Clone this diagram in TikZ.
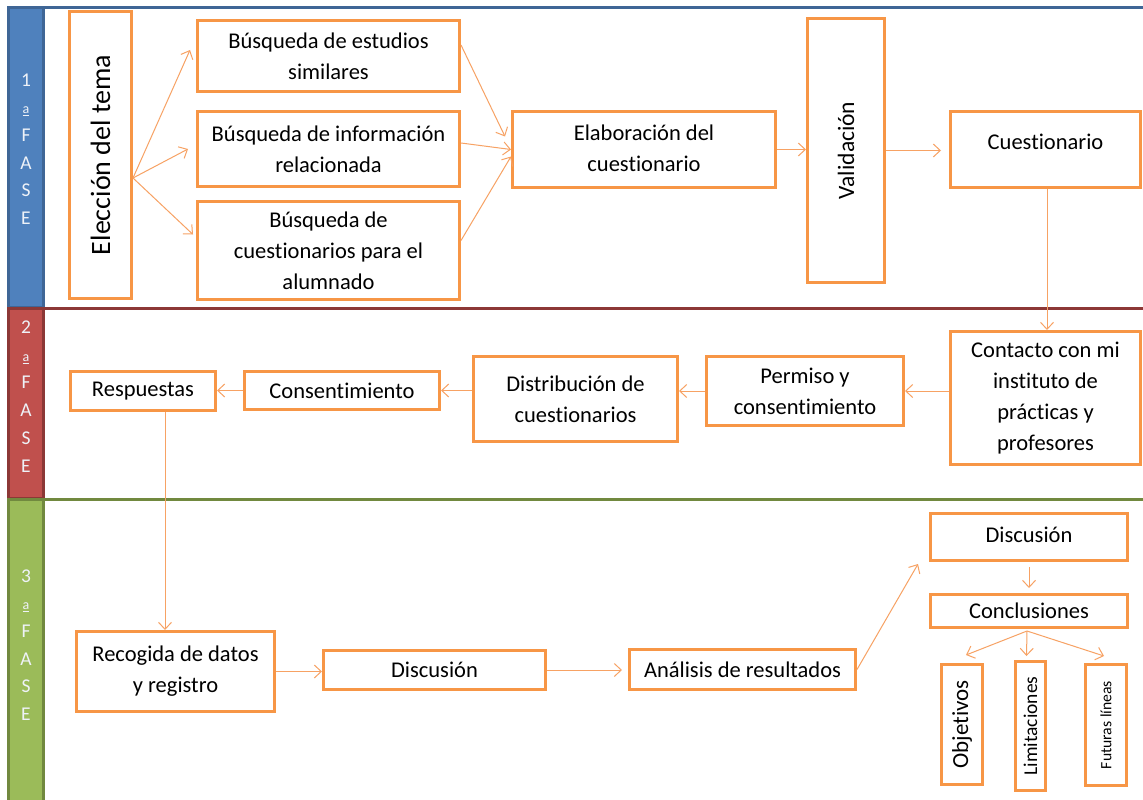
\documentclass[tikz,border=0pt]{standalone}
\usepackage{fontspec}
\setmainfont{Carlito}[Ligatures={NoCommon,NoRare}]
\usetikzlibrary{arrows.meta,calc}
\definecolor{boxor}{HTML}{F79646}
\definecolor{arror}{HTML}{F7A264}
\definecolor{bfill}{HTML}{4F81BD}
\definecolor{bline}{HTML}{3F6696}
\definecolor{rfill}{HTML}{C0504D}
\definecolor{rline}{HTML}{8C3836}
\definecolor{gfill}{HTML}{9BBB59}
\definecolor{gline}{HTML}{71893F}
\definecolor{stxt}{HTML}{EEF2F8}
\tikzset{
  box/.style={draw=boxor, line width=3pt, fill=white, align=center, inner sep=2pt,
    font=\fontsize{22.5}{31}\selectfont},
  conn/.style={draw=arror, line width=1pt, -{Straight Barb[length=7pt,width=13pt]}},
  stripnum/.style={align=center, text=stxt, font=\fontsize{19.5}{27.7}\selectfont},
}
\newcommand{\bx}[6]{% name, x1, y1, x2, y2, text
  \node[box, minimum width={#4-#2-3pt}, minimum height={#5-#3-3pt}] (#1) at ({(#2+#4)/2},{(#3+#5)/2}) {#6};}
\newcommand{\ordA}{{\fontsize{14}{15}\selectfont\underline{a}}}
\begin{document}
\begin{tikzpicture}[x=1pt,y=-1pt]
\useasboundingbox (0,0) rectangle (1143,800);
\fill[white] (0,0) rectangle (1143,800);
% phase strips
\fill[bfill] (8,8) rectangle (43,307);
\draw[bline, line width=3pt] (43,307) -- (8,307) -- (8,8) -- (1143,8);
\draw[bline, line width=3pt] (43,8) -- (43,307);
\fill[rfill] (8,308) rectangle (43,498);
\draw[rline, line width=3pt] (43,498) -- (8,498) -- (8,308) -- (1143,308);
\draw[rline, line width=3pt] (43,308) -- (43,498);
\fill[gfill] (8,500) rectangle (43,805);
\draw[gline, line width=3pt] (8,805) -- (8,499) -- (1143,499);
\draw[gline, line width=3pt] (43,499) -- (43,805);
\node[stripnum] (p1) at (26,149) {1\\\ordA\\F\\A\\S\\E};
\node[stripnum] (p2) at (26,396.5) {2\\\ordA\\F\\A\\S\\E};
\node[stripnum] (p3) at (26,645) {3\\\ordA\\F\\A\\S\\E};
% phase 1
\bx{el}{68}{10}{133}{300}{\rotatebox{90}{\fontsize{28}{32}\selectfont Elección del tema}}
\bx{bs1}{196}{19}{461}{93}{Búsqueda de estudios\\similares}
\bx{bs2}{196}{110}{461}{188}{Búsqueda de información\\relacionada}
\bx{bs3}{196}{200}{461}{301}{Búsqueda de\\cuestionarios para el\\alumnado}
\bx{elab}{511}{110}{777}{189}{\raisebox{3pt}{\begin{tabular}{@{}c@{}}Elaboración del\\cuestionario\end{tabular}}}
\bx{val}{806}{17}{886}{284}{\rotatebox{90}{\fontsize{23.5}{28}\selectfont Validación}}
\bx{cu}{949}{110}{1142}{189}{\raisebox{16pt}{Cuestionario}}
% phase 2
\bx{ct}{949}{330}{1142}{466}{Contacto con mi\\instituto de\\prácticas y\\profesores}
\bx{pm}{705}{355}{905}{427}{Permiso y\\consentimiento}
\bx{db}{472}{355}{679}{443}{Distribución de\\cuestionarios}
\bx{cs}{243}{370}{441}{411}{Consentimiento}
\bx{rs}{69}{370}{217}{412}{Respuestas}
% phase 3
\bx{rg}{75}{630}{276}{713}{Recogida de datos\\y registro}
\bx{d1}{322}{649}{547}{691}{Discusión}
\bx{an}{628}{648}{857}{691}{Análisis de resultados}
\bx{d2}{929}{512}{1129}{562}{\raisebox{4pt}{Discusión}}
\bx{cc}{929}{593}{1129}{629}{Conclusiones}
\bx{ob}{940}{663}{984}{786}{\rotatebox{90}{\fontsize{23}{28}\selectfont Objetivos}}
\bx{li}{1014}{660}{1047}{792}{\rotatebox{90}{\fontsize{19.5}{24}\selectfont Limitaciones}}
\bx{fu}{1084}{663}{1128}{787}{\rotatebox{90}{\fontsize{15.7}{20}\selectfont Futuras líneas}}
% connectors phase 1
\draw[conn] ([yshift=-23pt]el.east) -- ([xshift=-6pt,yshift=6pt]bs1.west);
\draw[conn] ([yshift=-23pt]el.east) -- ([xshift=-8pt]bs2.west);
\draw[conn] ([yshift=-23pt]el.east) -- ([xshift=-3pt,yshift=16pt]bs3.west);
\draw[conn] ([yshift=11pt]bs1.east) -- ([xshift=-6pt,yshift=13pt]elab.west);
\draw[conn] ([yshift=6pt]bs2.east) -- (elab.west);
\draw[conn] ([yshift=10pt]bs3.east) -- ([yshift=-7pt]elab.west);
\draw[conn] (elab.east) -- (elab.east -| val.west);
\draw[conn, shorten >=8pt] (val.east) -- (val.east -| cu.west);
\draw[conn] ([xshift=1.5pt]cu.south) -- ([xshift=1.5pt]cu.south |- ct.north);
% phase 2
\draw[conn] (ct.west |- pm.east) -- (pm.east);
\draw[conn] (pm.west) -- (pm.west -| db.east);
\draw[conn] (db.west |- cs.east) -- (cs.east);
\draw[conn] (cs.west) -- (cs.west -| rs.east);
\draw[conn] ([xshift=22pt]rs.south) -- ([xshift=22pt]rs.south |- rg.north);
% phase 3
\draw[conn] (rg.east) -- (rg.east -| d1.west);
\draw[conn, shorten >=6pt] (d1.east) -- (d1.east -| an.west);
\draw[conn] (an.east) -- ([xshift=-11pt,yshift=-2pt]d2.south west);
\draw[conn, shorten <=5pt, shorten >=5pt] (d2.south) -- (d2.south |- cc.north);
\draw[conn] ([xshift=-2pt,yshift=-2pt]cc.south) -- ([xshift=4pt,yshift=8pt]ob.north);
\draw[conn] ([xshift=-2pt,yshift=-2pt]cc.south) -- ([xshift=-4pt,yshift=4pt]li.north);
\draw[conn] ([xshift=-2pt,yshift=-2pt]cc.south) -- ([xshift=-2pt,yshift=7pt]fu.north);
\end{tikzpicture}
\end{document}
